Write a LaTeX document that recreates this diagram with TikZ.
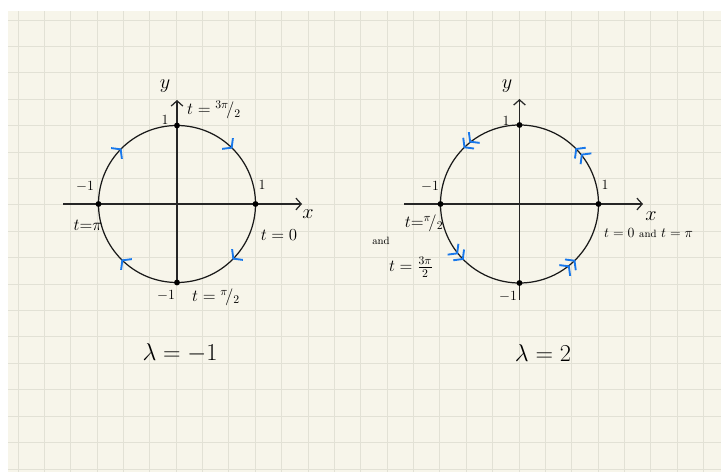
\documentclass[tikz,border=0pt]{standalone}
\usetikzlibrary{arrows.meta,decorations.markings}

\begin{document}
\begin{tikzpicture}[
  x=0.03cm,
  y=0.03cm,
  gridline/.style={draw=paperline, line width=0.8pt},
  axis/.style={line width=1.05pt, black!85, -{Straight Barb[length=4.5pt,width=10pt]}},
  curve/.style={line width=1.05pt, black!90},
  dot/.style={circle, fill=black, inner sep=0pt, minimum size=5pt},
  ink/.style={font=\Large},
  small/.style={font=\large},
  big/.style={font=\huge},
  flow/.style={line width=1.6pt, notesblue},
  cw/.style={postaction={decorate}, decoration={markings,
      mark=at position 0.125 with {\arrowreversed[flow]{Straight Barb[length=5pt,width=13pt]}},
      mark=at position 0.375 with {\arrowreversed[flow]{Straight Barb[length=5pt,width=13pt]}},
      mark=at position 0.625 with {\arrowreversed[flow]{Straight Barb[length=5pt,width=13pt]}},
      mark=at position 0.875 with {\arrowreversed[flow]{Straight Barb[length=5pt,width=13pt]}}}},
  ccw/.style={postaction={decorate}, decoration={markings,
      mark=at position 0.125 with {\arrow[flow]{Straight Barb[length=5pt,width=13pt] Straight Barb[length=5pt,width=13pt]}},
      mark=at position 0.375 with {\arrow[flow]{Straight Barb[length=5pt,width=13pt] Straight Barb[length=5pt,width=13pt]}},
      mark=at position 0.625 with {\arrow[flow]{Straight Barb[length=5pt,width=13pt] Straight Barb[length=5pt,width=13pt]}},
      mark=at position 0.875 with {\arrow[flow]{Straight Barb[length=5pt,width=13pt] Straight Barb[length=5pt,width=13pt]}}}}
]
\definecolor{paper}{RGB}{247,245,234}
\definecolor{paperline}{RGB}{226,225,213}
\definecolor{notesblue}{RGB}{24,120,235}

\useasboundingbox (0,0) rectangle (721,472);

% Squared paper.
\fill[paper] (8,0) rectangle (721,461);
\foreach \k in {0,...,26}
  \draw[gridline] ({18+26.37*\k},0) -- ({18+26.37*\k},461);
\foreach \k in {0,...,17}
  \draw[gridline] (8,{452-26.41*\k}) -- (721,{452-26.41*\k});

\coordinate (lc) at (177,268);
\coordinate (rc) at (519.5,268);

% Left plot: lambda = -1, traversed clockwise.
\coordinate (lxa) at (63,268);
\coordinate (lxb) at (302,268);
\coordinate (lya) at (177,187);
\coordinate (lyb) at (177,372);
\draw[axis] (lxa) -- (lxb);
\draw[axis] (lya) -- (lyb);
\draw[curve, cw] (lc) circle (78.5);
\foreach \a/\n in {0/r,90/t,180/l,270/b}
  \node[dot] (l\n) at ([shift={(\a:78.5)}]lc) {};

\node[font=\LARGE] (lxlab) at (308,258) {$x$};
\node[font=\LARGE] (lylab) at (165,386) {$y$};
\node[small] (ltop) at (165,352) {$1$};
\node[small] (lleft) at (85,285) {$-1$};
\node[small] (lright) at (262,287) {$1$};
\node[small] (lbot) at (166,176) {$-1$};
\node[ink] (lt3) at (214,362) {$t={}^{3\pi}\!/{}_{2}$};
\node[ink] (ltpi) at (88,247) {$t{=}\pi$};
\node[ink] (lt0) at (279,237) {$t=0$};
\node[ink] (lt1) at (216,175) {$t={}^{\pi}\!/{}_{2}$};
\node[big] (llam) at (180,119) {$\lambda=-1$};

% Right plot: lambda = 2, traversed anticlockwise.
\coordinate (rxa) at (404,268);
\coordinate (rxb) at (643,268);
\coordinate (rya) at (519.5,172);
\coordinate (ryb) at (519.5,373);
\draw[axis] (rxa) -- (rxb);
\draw[axis] (rya) -- (ryb);
\draw[curve, ccw] (rc) circle (79);
\foreach \a/\n in {0/r,90/t,180/l,270/b}
  \node[dot] (r\n) at ([shift={(\a:79)}]rc) {};

\node[font=\LARGE] (rxlab) at (651,256) {$x$};
\node[font=\LARGE] (rylab) at (507,386) {$y$};
\node[small] (rtop) at (506,351) {$1$};
\node[small] (rleft) at (430,285) {$-1$};
\node[small] (rright) at (605,287) {$1$};
\node[small] (rbot) at (508,175) {$-1$};
\node[ink] (rt1) at (424,249) {$t{=}{}^{\pi}\!/{}_{2}$};
\node[font=\small] (rand) at (381,231) {and};
\node[ink] (rt3) at (411,205) {$t=\frac{3\pi}{2}$};
\node[small, anchor=west] (rt0) at (600,239) {$t=0$ {\small and} $t=\pi$};
\node[big] (rlam) at (543,119) {$\lambda=2$};
\end{tikzpicture}
\end{document}
